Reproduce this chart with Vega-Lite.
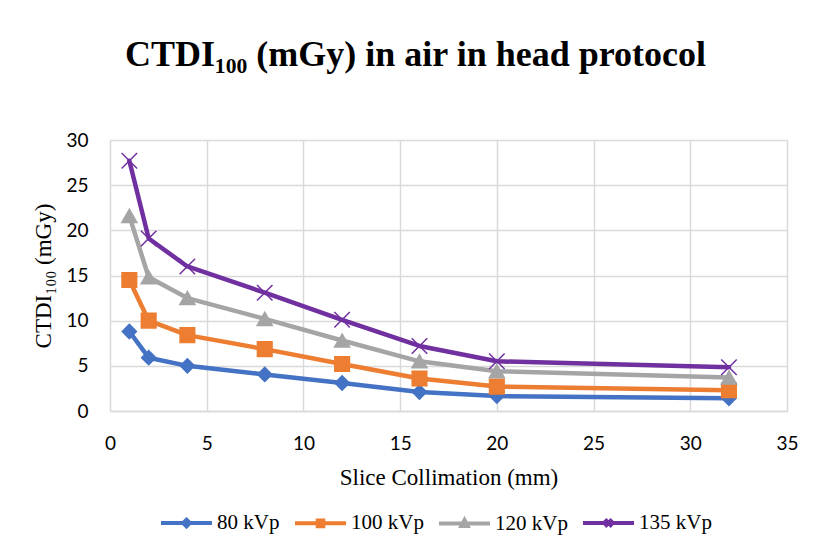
{
  "$schema": "https://vega.github.io/schema/vega-lite/v6.json",
  "autosize": {"type": "none"},
  "width": 677,
  "height": 271,
  "padding": {"left": 110, "top": 140, "right": 27, "bottom": 136},
  "background": "white",
  "title": {
    "text": "CTDI₁₀₀ (mGy) in air in head protocol",
    "font": "Liberation Serif",
    "fontSize": 36,
    "fontWeight": "bold",
    "color": "black",
    "anchor": "middle",
    "offset": 57,
    "dx": -33
  },
  "data": {
    "values": [
      {"series": "80 kVp", "x": 1, "y": 8.8},
      {"series": "80 kVp", "x": 2, "y": 5.9},
      {"series": "80 kVp", "x": 4, "y": 5.0},
      {"series": "80 kVp", "x": 8, "y": 4.05},
      {"series": "80 kVp", "x": 12, "y": 3.1},
      {"series": "80 kVp", "x": 16, "y": 2.1},
      {"series": "80 kVp", "x": 20, "y": 1.65},
      {"series": "80 kVp", "x": 32, "y": 1.4},
      {"series": "100 kVp", "x": 1, "y": 14.5},
      {"series": "100 kVp", "x": 2, "y": 10.0},
      {"series": "100 kVp", "x": 4, "y": 8.4},
      {"series": "100 kVp", "x": 8, "y": 6.85},
      {"series": "100 kVp", "x": 12, "y": 5.2},
      {"series": "100 kVp", "x": 16, "y": 3.6},
      {"series": "100 kVp", "x": 20, "y": 2.7},
      {"series": "100 kVp", "x": 32, "y": 2.3},
      {"series": "120 kVp", "x": 1, "y": 21.6},
      {"series": "120 kVp", "x": 2, "y": 14.8},
      {"series": "120 kVp", "x": 4, "y": 12.5},
      {"series": "120 kVp", "x": 8, "y": 10.2},
      {"series": "120 kVp", "x": 12, "y": 7.8},
      {"series": "120 kVp", "x": 16, "y": 5.5},
      {"series": "120 kVp", "x": 20, "y": 4.4},
      {"series": "120 kVp", "x": 32, "y": 3.7},
      {"series": "135 kVp", "x": 1, "y": 27.7},
      {"series": "135 kVp", "x": 2, "y": 19.1},
      {"series": "135 kVp", "x": 4, "y": 16.0},
      {"series": "135 kVp", "x": 8, "y": 13.1},
      {"series": "135 kVp", "x": 12, "y": 10.1},
      {"series": "135 kVp", "x": 16, "y": 7.2},
      {"series": "135 kVp", "x": 20, "y": 5.5},
      {"series": "135 kVp", "x": 32, "y": 4.85}
    ]
  },
  "encoding": {
    "x": {
      "field": "x",
      "type": "quantitative",
      "scale": {"domain": [0, 35], "nice": false, "zero": false},
      "axis": {
        "title": "Slice Collimation (mm)",
        "values": [0, 5, 10, 15, 20, 25, 30, 35],
        "ticks": false,
        "domainColor": "#d9d9d9",
        "domainWidth": 1.5,
        "gridColor": "#d9d9d9",
        "gridWidth": 1.5,
        "labelFont": "Lato",
        "labelFontSize": 19,
        "labelColor": "#000000",
        "labelPadding": 23,
        "labelFlush": false,
        "titleFont": "Liberation Serif",
        "titleFontSize": 23,
        "titleFontWeight": "normal",
        "titleColor": "#000000",
        "titlePadding": 13
      }
    },
    "y": {
      "field": "y",
      "type": "quantitative",
      "scale": {"domain": [0, 30], "nice": false},
      "axis": {
        "title": "CTDI₁₀₀ (mGy)",
        "values": [0, 5, 10, 15, 20, 25, 30],
        "ticks": false,
        "domain": false,
        "gridColor": "#d9d9d9",
        "gridWidth": 1.5,
        "labelFont": "Lato",
        "labelFontSize": 19,
        "labelColor": "#000000",
        "labelPadding": 22,
        "labelFlush": false,
        "titleFont": "Liberation Serif",
        "titleFontSize": 23,
        "titleFontWeight": "normal",
        "titleColor": "#000000",
        "titlePadding": 10
      }
    }
  },
  "layer": [
    {
      "mark": {"type": "line", "strokeWidth": 4.5, "strokeCap": "round", "strokeJoin": "round"},
      "encoding": {
        "color": {
          "field": "series",
          "type": "nominal",
          "scale": {"domain": ["80 kVp", "100 kVp", "120 kVp", "135 kVp"], "range": ["#4472C4", "#ED7D31", "#A5A5A5", "#7030A0"]},
          "legend": null
        },
        "detail": {"field": "series"}
      }
    },
    {
      "mark": {"type": "point", "filled": true, "opacity": 1, "strokeWidth": 1.5},
      "encoding": {
        "color": {"field": "series", "type": "nominal", "legend": null},
        "stroke": {
          "field": "series",
          "type": "nominal",
          "scale": {"domain": ["80 kVp", "100 kVp", "120 kVp", "135 kVp"], "range": ["#4472C4", "#ED7D31", "#A5A5A5", "#7030A0"]},
          "legend": null
        },
        "shape": {
          "field": "series",
          "type": "nominal",
          "scale": {"domain": ["80 kVp", "100 kVp", "120 kVp", "135 kVp"], "range": ["diamond", "square", "triangle-up", "M-1,-1L1,1M-1,1L1,-1"]},
          "legend": null
        },
        "size": {
          "field": "series",
          "type": "nominal",
          "scale": {"domain": ["80 kVp", "100 kVp", "120 kVp", "135 kVp"], "range": [200, 240, 230, 256]},
          "legend": null
        }
      }
    },
    {
      "mark": {"type": "point", "filled": false, "opacity": 0, "size": 2601, "strokeWidth": 4},
      "encoding": {
        "stroke": {
          "field": "series",
          "type": "nominal",
          "scale": {"domain": ["80 kVp", "100 kVp", "120 kVp", "135 kVp"], "range": ["#4472C4", "#ED7D31", "#A5A5A5", "#7030A0"]},
          "legend": {
            "title": null,
            "orient": "none",
            "direction": "horizontal",
            "legendX": 49,
            "legendY": 355,
            "symbolSize": 2601,
            "symbolStrokeWidth": 4,
            "labelFont": "Liberation Serif",
            "labelFontSize": 21,
            "labelColor": "#000000",
            "labelOffset": 3,
            "columnPadding": 7
          }
        },
        "shape": {
          "field": "series",
          "type": "nominal",
          "scale": {
            "domain": ["80 kVp", "100 kVp", "120 kVp", "135 kVp"],
            "range": [
              "M-1,0L1,0M0,-0.13L0.13,0L0,0.13L-0.13,0Z",
              "M-1,0L1,0M-0.11,-0.11L0.11,-0.11L0.11,0.11L-0.11,0.11Z",
              "M-1,0L1,0M0,-0.14L0.12,0.09L-0.12,0.09Z",
              "M-1,0L1,0M-0.14,-0.14L0.14,0.14M-0.14,0.14L0.14,-0.14"
            ]
          },
          "legend": {
            "title": null,
            "orient": "none",
            "direction": "horizontal",
            "legendX": 49,
            "legendY": 355,
            "symbolSize": 2601,
            "symbolStrokeWidth": 4,
            "labelFont": "Liberation Serif",
            "labelFontSize": 21,
            "labelColor": "#000000",
            "labelOffset": 3,
            "columnPadding": 7,
            "encode": {
              "symbols": {
                "update": {
                  "fill": {"scale": "color", "field": "value"},
                  "opacity": {"value": 1},
                  "fillOpacity": {"value": 1},
                  "strokeOpacity": {"value": 1},
                  "strokeWidth": {"value": 4},
                  "strokeCap": {"value": "round"}
                }
              }
            }
          }
        }
      }
    }
  ],
  "resolve": {"scale": {"shape": "independent", "size": "independent", "stroke": "independent"}},
  "config": {"view": {"stroke": null}}
}
